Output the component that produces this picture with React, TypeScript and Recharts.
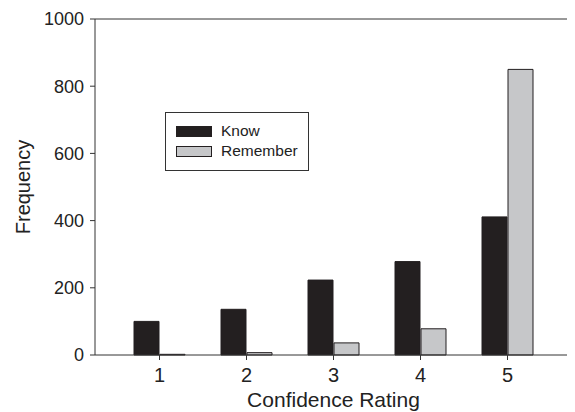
import { BarChart, Bar, XAxis, YAxis, Label, CartesianGrid } from "recharts";

const ratings = ["1", "2", "3", "4", "5"];
const know = [100, 136, 223, 278, 411];
const remember = [2, 7, 36, 78, 850];
const yTicks = [0, 200, 400, 600, 800, 1000];

const DARK = "#231f20";
const GREY = "#c6c7c9";
const AXIS = "#333";
const FONT = "'Liberation Sans', Arial, sans-serif";

const data = ratings.map((r, i) => ({ rating: r, Know: know[i], Remember: remember[i] }));

const series = [
  { key: "Know", fill: DARK },
  { key: "Remember", fill: GREY },
];

function LegendBox() {
  return (
    <div
      style={{
        position: "absolute",
        left: 165,
        top: 112,
        border: `1px solid ${AXIS}`,
        background: "#fff",
        width: 142,
        height: 49,
        fontFamily: FONT,
        fontSize: 15.5,
        color: "#222",
        paddingTop: 8,
      }}
    >
      {series.map(s => (
        <div key={s.key} style={{ display: "flex", alignItems: "center", height: 20, marginLeft: 10 }}>
          <span
            style={{
              display: "inline-block",
              width: 34,
              height: 9,
              background: s.fill,
              border: `1px solid ${DARK}`,
              marginRight: 9,
            }}
          />
          {s.key}
        </div>
      ))}
    </div>
  );
}

function YTitle(props: any) {
  const vb = props.viewBox;
  const cx = 23;
  const cy = vb.y + vb.height / 2;
  return (
    <text
      x={cx}
      y={cy}
      transform={`rotate(-90, ${cx}, ${cy})`}
      textAnchor="middle"
      dominantBaseline="central"
      fontFamily={FONT}
      fontSize={20}
      fill="#222"
    >
      Frequency
    </text>
  );
}

function XTitle(props: any) {
  const vb = props.viewBox;
  return (
    <text x={vb.x + vb.width / 2} y={407} textAnchor="middle" fontFamily={FONT} fontSize={21} fill="#222">
      Confidence Rating
    </text>
  );
}

export default function App() {
  return (
    <div style={{ position: "relative", margin: "-8px -8px 0 -8px", width: 575, height: 412, background: "#fff" }}>
      <BarChart
        width={575}
        height={412}
        data={data}
        margin={{ top: 19, right: 3, left: 0, bottom: 0 }}
        barGap={1}
        barSize={25}
      >
        {/* frame: top and right edges of the plot box */}
        <CartesianGrid
          stroke={AXIS}
          strokeDasharray="0"
          horizontalCoordinatesGenerator={({ offset }: any) => [offset.top]}
          verticalCoordinatesGenerator={({ offset }: any) => [offset.left + offset.width]}
        />
        <XAxis
          dataKey="rating"
          height={57}
          padding={{ left: 21, right: 21 }}
          tickSize={5}
          tickMargin={8}
          stroke={AXIS}
          tick={{ fill: "#222", fontSize: 20, fontFamily: FONT }}
        >
          <Label content={<XTitle />} />
        </XAxis>
        <YAxis
          width={95}
          domain={[0, 1000]}
          ticks={yTicks}
          tickSize={5}
          tickMargin={6}
          stroke={AXIS}
          tick={{ fill: "#222", fontSize: 18, fontFamily: FONT }}
        >
          <Label content={<YTitle />} />
        </YAxis>
        {series.map(s => (
          <Bar key={s.key} dataKey={s.key} fill={s.fill} stroke={DARK} strokeWidth={1} isAnimationActive={false} />
        ))}
      </BarChart>
      <LegendBox />
    </div>
  );
}
